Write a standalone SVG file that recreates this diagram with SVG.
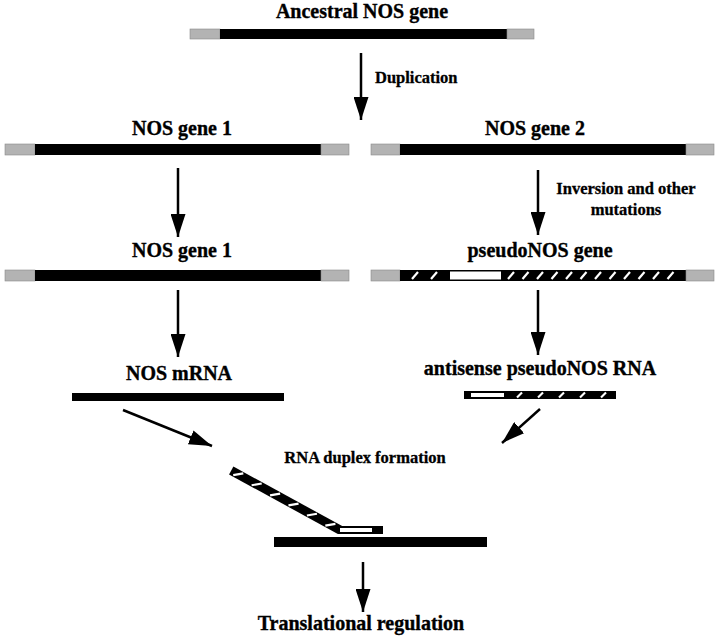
<svg xmlns="http://www.w3.org/2000/svg" width="720" height="644" viewBox="0 0 720 644">
<defs>
<style>
.t{font-family:"Liberation Serif","Times New Roman",serif;font-weight:bold;font-size:20px;fill:#000;stroke:#000;stroke-width:0.35;text-anchor:middle}
.s{font-size:16.5px;stroke-width:0.3}
.g{fill:#b3b3b3;stroke:#8a8a8a;stroke-width:0.6}
.k{fill:#000}
.w{fill:#fff}
.st{stroke:#fff;stroke-width:2.2;stroke-linecap:butt}
.c{stroke:#000;stroke-width:2.5;fill:none}
</style>
<marker id="ah" markerUnits="userSpaceOnUse" markerWidth="23" markerHeight="15" refX="23" refY="7.5" orient="auto">
<path d="M0,0 L23,7.5 L0,15 z" fill="#000"/>
</marker>
</defs>
<rect width="720" height="644" fill="#fff"/>

<g id="ancestral">
<text class="t" x="362" y="18">Ancestral NOS gene</text>
<rect class="g" x="190" y="29" width="30" height="10"/>
<rect class="k" x="220" y="29" width="287" height="10"/>
<rect class="g" x="507" y="29" width="27" height="10"/>
</g>

<g id="gene1">
<text class="t" x="182" y="135">NOS gene 1</text>
<rect class="g" x="5" y="144" width="30" height="11"/>
<rect class="k" x="35" y="144" width="286" height="11"/>
<rect class="g" x="321" y="144" width="28" height="11"/>
</g>

<g id="gene2">
<text class="t" x="535" y="135">NOS gene 2</text>
<rect class="g" x="371" y="144" width="29" height="11"/>
<rect class="k" x="400" y="144" width="286" height="11"/>
<rect class="g" x="686" y="144" width="28" height="11"/>
</g>

<g id="gene1b">
<text class="t" x="182" y="257">NOS gene 1</text>
<rect class="g" x="5" y="270" width="30" height="11"/>
<rect class="k" x="35" y="270" width="286" height="11"/>
<rect class="g" x="321" y="270" width="28" height="11"/>
</g>

<g id="pseudogene">
<text class="t" x="540" y="257">pseudoNOS gene</text>
<rect class="g" x="371" y="270" width="29" height="11"/>
<rect class="k" x="400" y="270" width="286" height="11"/>
<rect class="g" x="686" y="270" width="28" height="11"/>
<rect class="w" x="450" y="271.5" width="51" height="8"/>
<g class="st">
<line x1="412" y1="279" x2="418" y2="272"/>
<line x1="431" y1="279" x2="437" y2="272"/>
<line x1="508" y1="279" x2="514" y2="272"/>
<line x1="522.5" y1="279" x2="528.5" y2="272"/>
<line x1="537" y1="279" x2="543" y2="272"/>
<line x1="551.5" y1="279" x2="557.5" y2="272"/>
<line x1="566" y1="279" x2="572" y2="272"/>
<line x1="580.5" y1="279" x2="586.5" y2="272"/>
<line x1="595" y1="279" x2="601" y2="272"/>
<line x1="609.5" y1="279" x2="615.5" y2="272"/>
<line x1="624" y1="279" x2="630" y2="272"/>
<line x1="638.5" y1="279" x2="644.5" y2="272"/>
<line x1="653" y1="279" x2="659" y2="272"/>
<line x1="667.5" y1="279" x2="673.5" y2="272"/>
</g>
</g>

<g id="mrna">
<text class="t" x="179" y="380">NOS mRNA</text>
<rect class="k" x="72" y="393" width="212" height="8"/>
</g>

<g id="antisense">
<text class="t" x="540" y="375">antisense pseudoNOS RNA</text>
<rect class="k" x="464" y="391" width="152" height="8"/>
<rect class="w" x="471" y="393" width="33" height="4"/>
<g class="st">
<line x1="517" y1="397.5" x2="522" y2="392.5"/>
<line x1="538" y1="397.5" x2="543" y2="392.5"/>
<line x1="559" y1="397.5" x2="564" y2="392.5"/>
<line x1="580" y1="397.5" x2="585" y2="392.5"/>
<line x1="601" y1="397.5" x2="606" y2="392.5"/>
</g>
</g>

<g id="duplex">
<text class="t s" x="365" y="463">RNA duplex formation</text>
<g transform="translate(340,530) rotate(28.7)">
<rect class="k" x="-124" y="-4.5" width="124" height="9"/>
<g class="st">
<line x1="-120" y1="3.2" x2="-112" y2="-3.2"/>
<line x1="-99" y1="3.2" x2="-91" y2="-3.2"/>
<line x1="-78" y1="3.2" x2="-70" y2="-3.2"/>
<line x1="-57" y1="3.2" x2="-49" y2="-3.2"/>
<line x1="-36" y1="3.2" x2="-28" y2="-3.2"/>
<line x1="-15" y1="3.2" x2="-7" y2="-3.2"/>
</g>
</g>
<rect class="k" x="338" y="526" width="45" height="8"/>
<rect class="w" x="340" y="528" width="32" height="4"/>
<rect class="k" x="274" y="537" width="213" height="10"/>
</g>

<g id="regulation">
<text class="t" x="361" y="630">Translational regulation</text>
</g>

<g id="connectors">
<line class="c" x1="361" y1="53" x2="361" y2="120" marker-end="url(#ah)"/>
<text class="t s" x="375" y="83" style="text-anchor:start">Duplication</text>
<line class="c" x1="178" y1="168" x2="178" y2="237" marker-end="url(#ah)"/>
<line class="c" x1="538" y1="170" x2="538" y2="235" marker-end="url(#ah)"/>
<text class="t s" x="626" y="194">Inversion and other</text>
<text class="t s" x="626" y="215">mutations</text>
<line class="c" x1="178" y1="290" x2="178" y2="357" marker-end="url(#ah)"/>
<line class="c" x1="538" y1="290" x2="538" y2="355" marker-end="url(#ah)"/>
<line class="c" x1="123" y1="410" x2="212" y2="446" marker-end="url(#ah)"/>
<line class="c" x1="540" y1="409" x2="502" y2="443" marker-end="url(#ah)"/>
<line class="c" x1="363" y1="562" x2="363" y2="612" marker-end="url(#ah)"/>
</g>
</svg>
